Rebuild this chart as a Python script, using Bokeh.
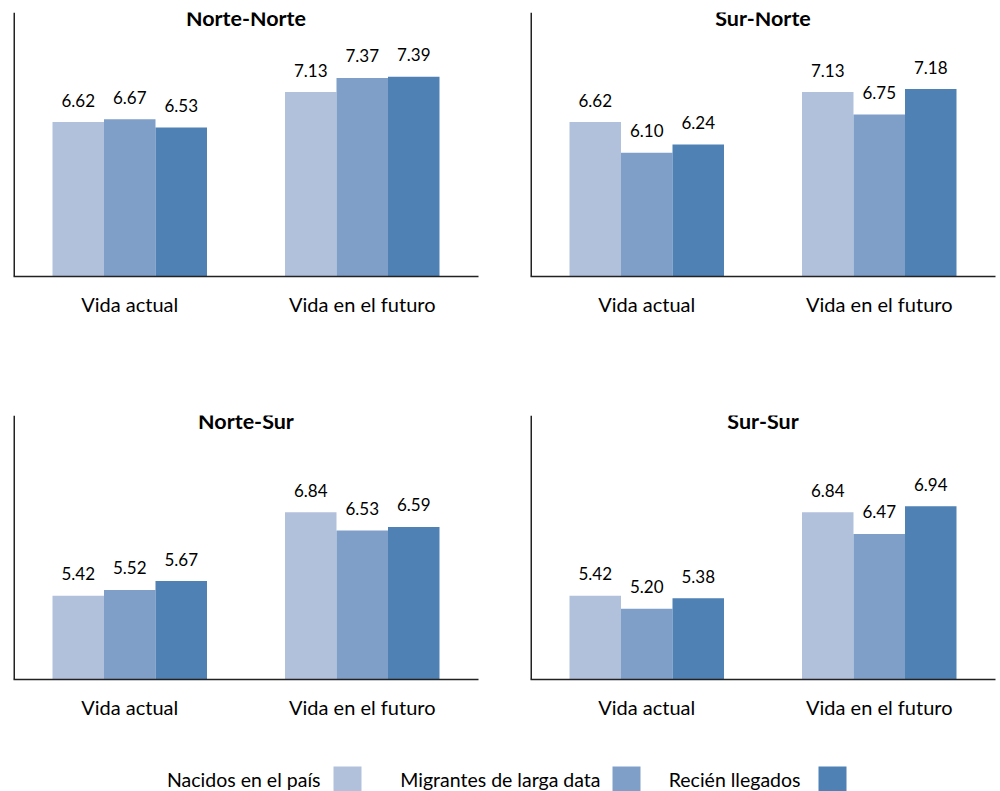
from bokeh.plotting import figure
from bokeh.models import FactorRange, Range1d, ColumnDataSource, Label, FixedTicker
from bokeh.transform import dodge
from bokeh.layouts import column, row
from bokeh.embed import file_html
from bokeh.resources import INLINE
from bokeh.core.properties import value

# ---------------- data ----------------
categories = ["Vida actual", "Vida en el futuro"]
series = ["Nacidos en el país", "Migrantes de larga data", "Recién llegados"]
colors = ["#B2C1DB", "#7F9FC8", "#4F81B4"]

nn_nacidos = [6.62, 7.13]
nn_migrantes = [6.67, 7.37]
nn_recien = [6.53, 7.39]

sn_nacidos = [6.62, 7.13]
sn_migrantes = [6.10, 6.75]
sn_recien = [6.24, 7.18]

ns_nacidos = [5.42, 6.84]
ns_migrantes = [5.52, 6.53]
ns_recien = [5.67, 6.59]

ss_nacidos = [5.42, 6.84]
ss_migrantes = [5.20, 6.47]
ss_recien = [5.38, 6.94]

# ---------------- style ----------------
FONT = "Lato"
FS_VAL = "17px"
FS_CAT = "20px"
FS_TITLE = "21.5px"
FS_LEG = "19.5px"
Y_MIN, Y_MAX = 4.0, 8.48
BAR_W = 0.2215
FRAME_H = 264
AXIS_COLOR = "#222222"


def make_panel(title, vals, width, height, bl, bt, br, bb):
    p = figure(x_range=FactorRange(factors=categories, range_padding=0),
               y_range=Range1d(Y_MIN, Y_MAX), width=width, height=height,
               min_border_left=bl, min_border_top=bt, min_border_right=br,
               min_border_bottom=bb, output_backend="svg", toolbar_location=None)
    p.outline_line_color = None
    p.xgrid.visible = False
    p.ygrid.visible = False
    p.background_fill_color = "white"
    p.border_fill_color = "white"

    data = dict(cat=categories)
    for i, v in enumerate(vals):
        data[f"s{i}"] = v
        data[f"l{i}"] = [f"{x:.2f}" for x in v]
    src = ColumnDataSource(data)
    offsets = [-BAR_W, 0.0, BAR_W]
    for i in range(3):
        xx = dodge("cat", offsets[i], range=p.x_range)
        p.vbar(x=xx, top=f"s{i}", bottom=Y_MIN, width=BAR_W, fill_color=colors[i],
               line_color=None, source=src)
        p.text(x=xx, y=f"s{i}", text=f"l{i}", text_align="center",
               text_baseline="alphabetic", y_offset=-22, text_color="black",
               text_font=value(FONT), text_font_size=FS_VAL, source=src)

    # axes: plain lines, no ticks
    p.yaxis.visible = False
    p.xaxis.major_tick_line_color = None
    p.xaxis.minor_tick_line_color = None
    p.xaxis.major_tick_out = 0
    p.xaxis.major_label_standoff = 15
    p.xaxis.major_label_text_font = FONT
    p.xaxis.major_label_text_font_size = FS_CAT
    p.xaxis.major_label_text_color = "black"
    p.xaxis.axis_line_color = AXIS_COLOR
    p.xaxis.axis_line_width = 1.5

    # left axis line drawn as a frame edge
    p.outline_line_color = None
    p.segment(x0=[0], y0=[Y_MIN], x1=[0], y1=[Y_MAX], line_color=AXIS_COLOR,
              line_width=3)

    ty = Y_MAX - 5.5 * (Y_MAX - Y_MIN) / FRAME_H
    p.add_layout(Label(x=1.0, y=ty, text=title, text_align="center",
                       text_baseline="middle", text_font=FONT,
                       text_font_style="bold", text_font_size=FS_TITLE,
                       text_color="black"))
    return p


p1 = make_panel("Norte-Norte", [nn_nacidos, nn_migrantes, nn_recien], 500, 400, 13, 12, 22, 124)
p2 = make_panel("Sur-Norte", [sn_nacidos, sn_migrantes, sn_recien], 500, 400, 30, 12, 5, 124)
p3 = make_panel("Norte-Sur", [ns_nacidos, ns_migrantes, ns_recien], 500, 345, 13, 15, 22, 66)
p4 = make_panel("Sur-Sur", [ss_nacidos, ss_migrantes, ss_recien], 500, 345, 30, 15, 5, 66)

# ---------------- legend (label, then swatch) ----------------
leg_text_right = [320, 600, 800]
leg_sw_left = [333, 612, 818]
SW_W = 28
leg = figure(width=1000, height=46, x_range=Range1d(0, 1000), y_range=Range1d(791, 745),
             output_backend="svg", toolbar_location=None, min_border=0,
             x_axis_type=None, y_axis_type=None)
leg.outline_line_color = None
leg.xgrid.visible = False
leg.ygrid.visible = False
lsrc = ColumnDataSource(dict(
    name=series, tx=leg_text_right, ty=[779] * 3,
    left=leg_sw_left, right=[v + SW_W for v in leg_sw_left],
    top=[766] * 3, bottom=[794] * 3, color=colors))
leg.text(x="tx", y="ty", text="name", text_align="right", text_baseline="middle",
         text_font=value(FONT), text_font_size=FS_LEG, text_color="black", source=lsrc)
leg.quad(left="left", right="right", top="top", bottom="bottom",
         fill_color="color", line_color=None, source=lsrc)

layout = column(row(p1, p2), row(p3, p4), leg)

open("out.html", "w").write(file_html(layout, INLINE))
